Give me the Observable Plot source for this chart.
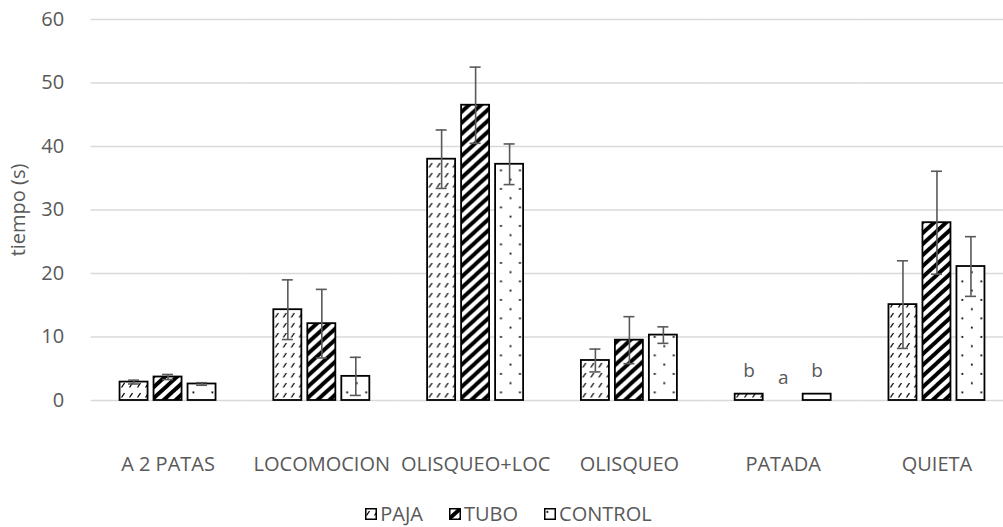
<!DOCTYPE html>
<html>
<head>
<meta charset="utf-8">
<script src="https://cdn.jsdelivr.net/npm/d3@7"></script>
<script src="https://cdn.jsdelivr.net/npm/@observablehq/plot@0.6"></script>
<style>
  html, body { margin: 0; padding: 0; background: #fff; }
  #chart { width: 1003px; height: 527px; overflow: hidden; }
  .legend { display: flex; justify-content: center; align-items: center; height: 27px;
            font-family: "Open Sans", sans-serif; font-size: 20px; color: #595959; padding-left: 14px; }
  .legend .item { display: flex; align-items: center; margin: 0 13px; }
  .legend svg { margin-right: 3px; }
</style>
</head>
<body>
<div id="chart"></div>
<script>
// ---- data ----
const categories = ["A 2 PATAS", "LOCOMOCION", "OLISQUEO+LOC", "OLISQUEO", "PATADA", "QUIETA"];
const series = ["PAJA", "TUBO", "CONTROL"];
const paja    = [2.9, 14.3, 38.0, 6.3, 1.0, 15.1];
const tubo    = [3.7, 12.1, 46.5, 9.5, 0.0, 28.0];
const control = [2.6, 3.8, 37.2, 10.3, 1.0, 21.1];
const pajaErr    = [0.3, 4.7, 4.6, 1.8, 0, 6.9];
const tuboErr    = [0.4, 5.4, 6.0, 3.7, 0, 8.1];
const controlErr = [0.2, 3.0, 3.2, 1.3, 0, 4.7];
const yTicks = [0, 10, 20, 30, 40, 50, 60];
const patadaLetters = ["b", "a", "b"];
const yLabel = "tiempo (s)";

const valuesBySeries = [paja, tubo, control];
const errBySeries = [pajaErr, tuboErr, controlErr];
const patternIds = ["pat-paja", "pat-tubo", "pat-control"];

const data = categories.flatMap((c, i) => series.map((s, j) => ({
  cat: c, series: s, value: valuesBySeries[j][i], err: errBySeries[j][i]
})));
const errData = data.filter(d => d.err > 0);
const caps = errData.flatMap(d => [
  {cat: d.cat, series: d.series, y: d.value - d.err},
  {cat: d.cat, series: d.series, y: d.value + d.err}
]);
const letters = series.map((s, j) => ({
  cat: "PATADA", series: s, value: valuesBySeries[j][categories.indexOf("PATADA")], label: patadaLetters[j]
}));

const textColor = "#595959";

const chart = Plot.plot({
  width: 1003,
  height: 500,
  marginLeft: 90.65,
  marginRight: 0,
  marginTop: 19,
  marginBottom: 100,
  style: { fontFamily: "'Open Sans', sans-serif", fontSize: "20px", color: textColor, background: "white", overflow: "hidden" },
  fx: { domain: categories, padding: 0, round: false, label: null, range: [90.65, 1013.35] },
  x: { domain: series, paddingInner: 0.176, paddingOuter: 0.85, round: false, axis: null },
  y: { domain: [0, 60], label: null },
  color: { type: "ordinal", domain: series, range: patternIds.map(id => `url(#${id})`) },
  marks: [
    Plot.gridY(yTicks, { stroke: "#d9d9d9", strokeOpacity: 1, strokeWidth: 1.3 }),
    Plot.axisY(yTicks, { tickSize: 0, tickPadding: 27, label: null, fontSize: 20, fill: textColor }),
    Plot.axisY([], { tickSize: 0, label: yLabel, labelAnchor: "center", labelOffset: 80, labelArrow: "none", fontSize: 20, fill: textColor }),
    Plot.axisFx({ anchor: "bottom", tickSize: 0, tickPadding: 56, label: null, fontSize: 20, fill: textColor }),
    Plot.barY(data, { fx: "cat", x: "series", y: "value", fill: "series", stroke: "black", strokeWidth: 1.8 }),
    Plot.ruleX(errData, { fx: "cat", x: "series", y1: d => d.value - d.err, y2: d => d.value + d.err, stroke: "#595959", strokeWidth: 1.6 }),
    Plot.tickY(caps, { fx: "cat", x: "series", y: "y", stroke: "#595959", strokeWidth: 1.6, insetLeft: 8.5, insetRight: 8.5 }),
    Plot.text(letters, { fx: "cat", x: "series", y: "value", text: "label", lineAnchor: "bottom", dy: -17, fontSize: 19, fill: textColor })
  ]
});

// patterns
const defs = d3.select(chart).insert("defs", ":first-child");
// PAJA: dashed upward diagonal
{
  const W = 8, H = 10;
  const p = defs.append("pattern").attr("id", "pat-paja").attr("patternUnits", "userSpaceOnUse").attr("width", W).attr("height", H);
  p.append("rect").attr("width", W).attr("height", H).attr("fill", "white");
  p.append("path").attr("d", "M1.5,7.5 L4.5,3").attr("stroke", "black").attr("stroke-width", 1.3).attr("fill", "none");
}
// TUBO: wide upward diagonal
{
  const W = 12, H = 11;
  const p = defs.append("pattern").attr("id", "pat-tubo").attr("patternUnits", "userSpaceOnUse").attr("width", W).attr("height", H);
  p.append("rect").attr("width", W).attr("height", H).attr("fill", "white");
  for (const k of [-1, 0, 1]) {
    p.append("path").attr("d", `M${k * W - W},${2 * H} L${k * W + 2 * W},${-H}`).attr("stroke", "black").attr("stroke-width", 3.9);
  }
}
// CONTROL: sparse dots
{
  const W = 19, H = 18.5;
  const p = defs.append("pattern").attr("id", "pat-control").attr("patternUnits", "userSpaceOnUse").attr("width", W).attr("height", H);
  p.append("rect").attr("width", W).attr("height", H).attr("fill", "white");
  p.append("rect").attr("x", 2.5).attr("y", 3).attr("width", 1.8).attr("height", 1.8).attr("fill", "black");
  p.append("rect").attr("x", 12).attr("y", 12.25).attr("width", 1.8).attr("height", 1.8).attr("fill", "black");
}

const container = document.getElementById("chart");
container.appendChild(chart);

// legend below
const legend = d3.select(container).append("div").attr("class", "legend");
series.forEach((s, j) => {
  const item = legend.append("div").attr("class", "item");
  const sw = item.append("svg").attr("width", 12).attr("height", 12);
  sw.append("rect").attr("x", 0.75).attr("y", 0.75).attr("width", 10.5).attr("height", 10.5)
    .attr("fill", `url(#${patternIds[j]})`).attr("stroke", "black").attr("stroke-width", 1.5);
  item.append("span").text(s);
});
</script>
</body>
</html>
